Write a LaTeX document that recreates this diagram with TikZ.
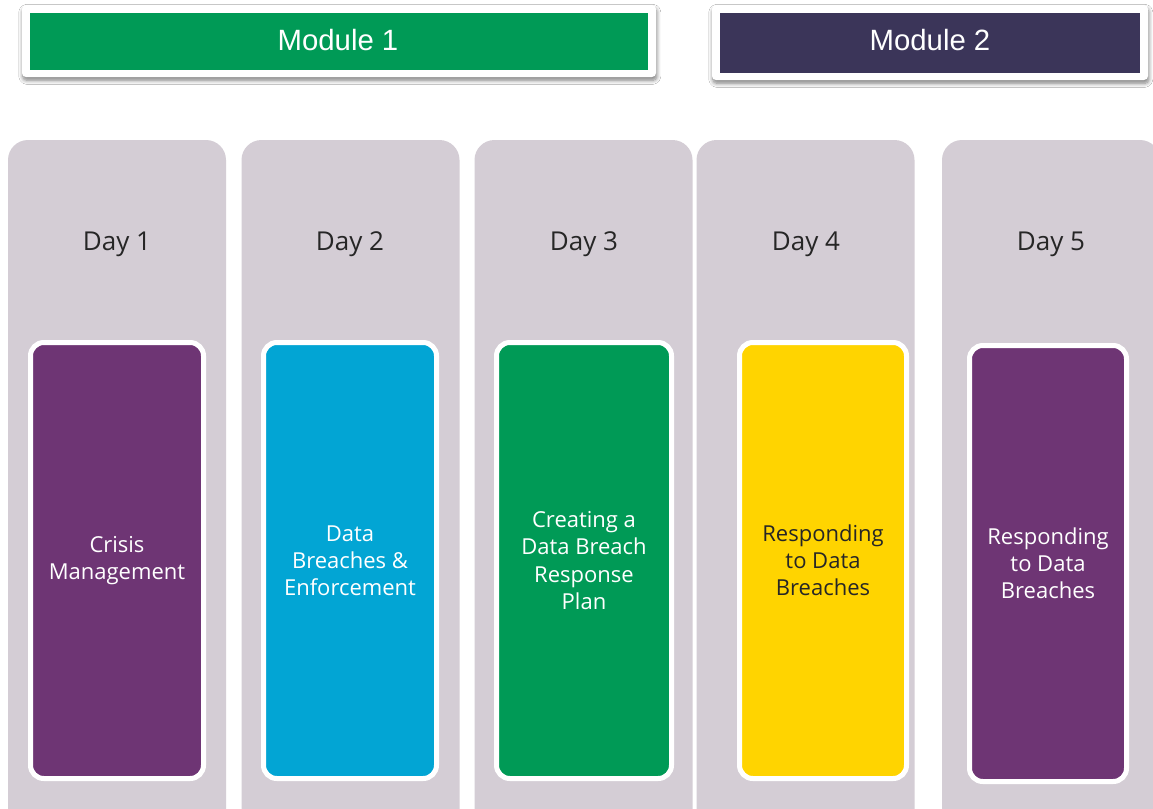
\documentclass[tikz,border=0pt]{standalone}
\usepackage{fontspec}
\setmainfont{Open Sans}
\newfontfamily\modfont{Liberation Sans}
\usetikzlibrary{shadows.blur}
\definecolor{colgray}{HTML}{D4CDD5}
\definecolor{tpurple}{HTML}{6E3574}
\definecolor{tblue}{HTML}{02A5D4}
\definecolor{tgreen}{HTML}{009A56}
\definecolor{tyellow}{HTML}{FFD400}
\definecolor{tdark}{HTML}{3B3559}
\definecolor{ttext}{HTML}{262626}
\begin{document}
\begin{tikzpicture}[x=0.75pt,y=-0.75pt,
  modframe/.style={fill=white, rounded corners=3pt, inner sep=0pt,
    blur shadow={shadow xshift=0.6pt, shadow yshift=-2.5pt, shadow blur radius=3pt, shadow blur steps=8, shadow opacity=50}},
  modbar/.style={inner sep=0pt, text=white, font=\modfont\fontsize{22}{26}\selectfont},
  daycol/.style={fill=colgray, rounded corners=15pt, minimum width=163.5pt, minimum height=517.5pt, inner sep=0pt},
  daylbl/.style={text=ttext, font=\fontsize{19.5}{23}\selectfont},
  topic/.style={draw=white, line width=3.75pt, rounded corners=10pt, minimum height=327pt,
    inner sep=0pt, align=center, text=white, font=\fontsize{16.5}{20.4}\selectfont}]
  \clip (0,0) rectangle (1153,808);
  \fill[white] (0,0) rectangle (1153,808);
  % module headers
  \node[modframe, minimum width=475.5pt, minimum height=54pt] (mod1frame) at (339,41) {};
  \node[modbar, fill=tgreen, minimum width=463.5pt, minimum height=42.75pt] (mod1) at (339,41.5) {};
  \node[modbar] (mod1lbl) at (338,40) {Module 1};
  \node[modframe, minimum width=327pt, minimum height=56.25pt] (mod2frame) at (930,42.5) {};
  \node[modbar, fill=tdark, minimum width=315pt, minimum height=45pt] (mod2) at (930,43) {};
  \node[modbar] (mod2lbl) at (930,40) {Module 2};
  % day columns
  \node[daycol] (day1) at (117,485) {};
  \node[daycol] (day2) at (350.5,485) {};
  \node[daycol] (day3) at (583.5,485) {};
  \node[daycol] (day4) at (805.5,485) {};
  \node[daycol] (day5) at (1051,485) {};
  \node[daylbl] (lbl1) at (117,244) {Day 1};
  \node[daylbl] (lbl2) at (350,244) {Day 2};
  \node[daylbl] (lbl3) at (584,244) {Day 3};
  \node[daylbl] (lbl4) at (806,244) {Day 4};
  \node[daylbl] (lbl5) at (1051,244) {Day 5};
  % topics
  \node[topic, fill=tpurple, minimum width=129.75pt] (topic1) at (117,560.5) {Crisis\\Management};
  \node[topic, fill=tblue, minimum width=129.75pt] (topic2) at (350,560.5) {Data\\Breaches \&\\Enforcement};
  \node[topic, fill=tgreen, minimum width=131.25pt] (topic3) at (584,560.5) {Creating a\\Data Breach\\Response\\Plan};
  \node[topic, fill=tyellow, text=ttext, minimum width=125.25pt] (topic4) at (823,560.5) {Responding\\to Data\\Breaches};
  \node[topic, fill=tpurple, minimum width=117.75pt] (topic5) at (1048,563.5) {Responding\\to Data\\Breaches};
\end{tikzpicture}
\end{document}
